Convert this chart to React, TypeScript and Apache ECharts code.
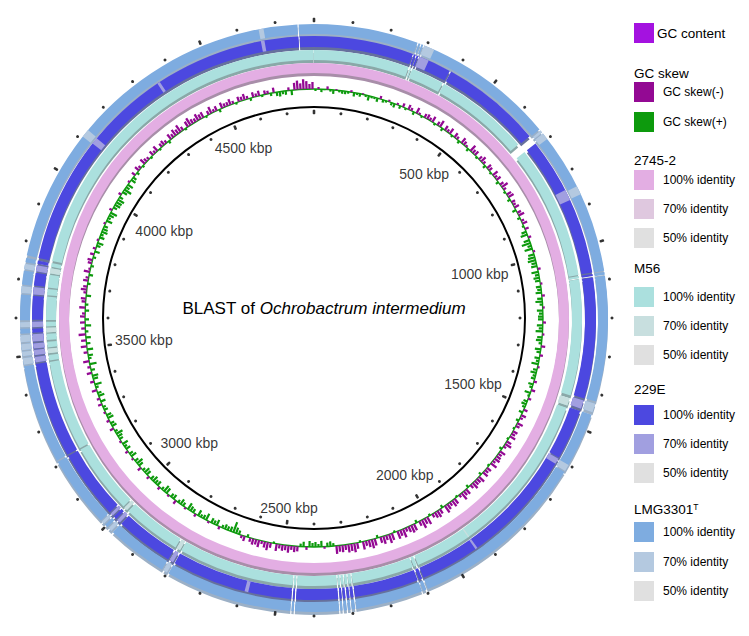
import React, { useEffect, useRef } from 'react';
import * as echarts from 'echarts';

// ---------------- data ----------------
const GENOME_KBP = 4800;
const TICK_STEP_KBP = 100;
const MAJOR_TICK_KBP = 500;
const kbpLabels = [500, 1000, 1500, 2000, 2500, 3000, 3500, 4000, 4500];

// GC skew, one value per 10 kbp window (negative = GC skew(-), positive = GC skew(+))
const SKEW_WINDOW_KBP = 10;
const gcSkew = [
  2, -2, 3, 1, -3, 2, 4, -1, 2, 3,
  3, 2, -2, 4, 2, 3, -1, 2, 5, 2,
  2, 4, -3, 3, 2, -2, 3, 4, -2, 3,
  -4, 2, -5, -3, 3, -6, -2, 2, -4, -5,
  -3, -6, 2, -4, -7, 3, -5, -3, -6, 2,
  -5, -3, 3, -6, -4, -2, 3, -7, -4, -5,
  2, -4, -6, -3, 3, -5, -4, 2, -6, -3,
  -5, 3, -4, -7, -3, 2, -5, -6, 3, -4,
  -3, -5, 4, -4, -6, 3, -3, -5, 2, -4,
  5, 7, -3, 6, 9, 4, 8, -2, 6, 7,
  8, 5, 6, -3, 7, 4, 6, 5, -2, 5,
  4, 6, -3, 5, 7, 3, -2, 6, 4, 5,
  5, -3, 6, 4, 7, -2, 5, 6, 3, -4,
  6, 4, -3, 5, 3, 7, -2, 4, 6, 3,
  4, -3, 5, 3, -4, 6, 2, -3, 4, 5,
  3, -4, 4, -5, -3, 3, -6, -4, 2, -5,
  -4, -6, 2, -5, -7, -3, 3, -6, -4, -5,
  -6, -3, -7, 2, -5, -4, -6, 3, -7, -5,
  -5, -7, -4, 3, -6, -5, -8, -3, 2, -6,
  -7, -4, -6, -8, 3, -5, -7, -6, -4, 2,
  -8, -6, -9, -5, 3, -7, -8, -6, -4, -9,
  -6, -8, 2, -7, -9, -5, -8, -6, 3, -7,
  -9, -7, -5, -8, 2, -6, -9, -7, -8, -5,
  -7, -6, -8, 3, 5, 4, -2, 6, 3, 5,
  4, 6, -3, 5, 3, -5, -6, -4, -7, -5,
  -6, -4, -7, 2, -5, -8, -6, -3, -7, -5,
  -6, -4, 3, -5, -3, 4, 6, 11, 5, 4,
  5, 3, -3, 6, 4, 5, -2, 7, 4, 3,
  6, -3, 4, 5, 7, -2, 4, 6, 3, -4,
  5, 4, -2, 6, 7, 3, -3, 5, 4, 6,
  4, -3, 5, 6, 3, -4, 5, 7, 4, -2,
  6, 4, -3, 5, 3, 6, -2, 4, 5, 7,
  3, -4, 5, 4, -3, 6, 5, -2, 4, 3,
  -4, 5, -3, 6, 4, -5, 3, 7, -4, 5,
  6, -5, 4, -3, 7, -6, 3, 5, -4, 6,
  -6, 4, -5, 5, -7, 3, -4, 6, -5, 4,
  -5, -3, 4, -6, 3, -4, -5, 5, -3, -6,
  -4, 3, -5, -3, 4, -6, -2, 3, -4, -5,
  3, -4, 5, -3, 4, 6, -2, 5, 3, 6,
  5, 4, -2, 6, 3, 5, 7, -3, 4, 6,
  6, 7, 4, -3, 5, 8, 4, 6, -2, 5,
  4, -4, 3, -5, -3, 2, -6, -4, -3, 2,
  -5, -3, -6, 2, -4, -5, -3, 3, -6, -4,
  -7, -5, -8, -4, 2, -6, -8, -5, -4, -7,
  -5, -6, 2, -4, -7, -3, -5, 3, -6, -4,
  -4, -6, -3, 2, -5, -4, -6, -3, 3, -5,
  -3, -5, 2, -4, -3, 3, -5, 4, 5, 3,
  4, -3, 5, -7, -9, -6, -10, -8, -5, -7,
];

// BLAST rings: [start, end] kbp without hits (gaps) and with ~70% identity (weak)
const gaps2745: number[][] = [];
const weak2745: number[][] = [];

const gapsM56 = [
  [276, 280], [284, 287], [383, 387], [662, 690], [1077, 1080], [1086, 1089],
  [1424, 1433], [1454, 1461], [2095, 2099], [2108, 2111], [2289, 2292], [2301, 2304],
  [2312, 2315], [2322, 2325], [2331, 2334], [2449, 2452], [2458, 2461], [2796, 2800],
  [2811, 2815], [2985, 2990], [3000, 3004], [3208, 3212], [3474, 3478], [3494, 3499],
  [3512, 3516], [3532, 3537], [3555, 3559], [3572, 3576], [3589, 3594], [3661, 3665],
  [3683, 3687], [3724, 3728], [3743, 3747], [3758, 3764], [4799, 4800],
];
const weakM56 = [
  [1433, 1454], [1928, 1932], [2800, 2811], [2990, 3000], [3499, 3512],
  [3559, 3572], [3728, 3743],
];

const gaps229E = [
  [274, 277], [282, 285], [290, 293], [384, 388], [665, 690], [1076, 1080],
  [1086, 1090], [1421, 1427], [1450, 1457], [1596, 1599], [2095, 2099], [2108, 2112],
  [2288, 2292], [2300, 2303], [2310, 2314], [2321, 2324], [2330, 2334], [2449, 2453],
  [2458, 2462], [2795, 2800], [2810, 2815], [2975, 2980], [2990, 2994], [3003, 3007],
  [3015, 3019], [3209, 3213], [3475, 3479], [3494, 3499], [3513, 3517], [3531, 3536],
  [3556, 3560], [3571, 3575], [3590, 3595], [3660, 3664], [3684, 3688], [3723, 3727],
  [3744, 3748], [3757, 3764], [4758, 4761],
];
const weak229E = [
  [293, 320], [840, 870], [1427, 1450], [1599, 1615], [1928, 1934], [2580, 2590],
  [2800, 2810], [2980, 2990], [3007, 3015], [3479, 3494], [3499, 3513], [3517, 3531],
  [3536, 3556], [3575, 3590], [3664, 3684], [3727, 3744], [4110, 4128], [4350, 4358],
  [4655, 4665],
];

const gapsLMG = [
  [275, 278], [283, 286], [291, 294], [668, 672], [678, 682], [1077, 1080],
  [1087, 1090], [1420, 1426], [1449, 1456], [1618, 1621], [2096, 2100], [2109, 2112],
  [2289, 2292], [2301, 2304], [2311, 2314], [2322, 2325], [2331, 2334], [2450, 2453],
  [2459, 2462], [2796, 2800], [2811, 2815], [2976, 2981], [2991, 2995], [3004, 3008],
  [3016, 3019], [3209, 3213], [3474, 3478], [3495, 3500], [3512, 3516], [3532, 3537],
  [3555, 3559], [3572, 3576], [3589, 3594], [3661, 3665], [3683, 3687], [3724, 3728],
  [3742, 3746], [3758, 3764], [4757, 4760],
];
const weakLMG = [
  [294, 322], [672, 678], [682, 700], [845, 868], [1426, 1449], [1600, 1618],
  [2800, 2811], [2981, 2991], [3008, 3016], [3478, 3495], [3500, 3512], [3516, 3532],
  [3537, 3555], [3576, 3589], [3665, 3683], [3728, 3742], [4108, 4130], [4655, 4668],
];

// ---------------- style / layout ----------------
const FONT = '"Liberation Sans", Arial, Helvetica, sans-serif';
const CENTER = [314, 318];
const RADIUS_MAX = 300; // radius axis in px units
const CIRCLE_R = 211;
const SKEW_BASE = 229;
const SKEW_SCALE = 1.0;
const SKEW_BAR_FRACTION = 0.75;
const OUTER_TICK_R = 298;
const INNER_TICK_R = 206;
const SHADOW_DY = 3;

const GC_CONTENT_COLOR = '#a412e0';
const SKEW_NEG_COLOR = '#930993';
const SKEW_POS_COLOR = '#0d9a0d';

const rings = [
  { name: '2745-2', r0: 245, r1: 255, colors: ['#e3aee3', '#dfc8df', '#e0e0e0'], shadow: '#a88ea9', gaps: gaps2745, weak: weak2745 },
  { name: 'M56', r0: 258, r1: 268, colors: ['#abe0de', '#c8dfdf', '#e0e0e0'], shadow: '#8aa8a8', gaps: gapsM56, weak: weakM56 },
  { name: '229E', r0: 271, r1: 282, colors: ['#4c48e0', '#a19fe0', '#e0e0e0'], shadow: '#66709c', gaps: gaps229E, weak: weak229E },
  { name: 'LMG3301', r0: 284, r1: 294, colors: ['#7eace0', '#b4c9e0', '#e0e0e0'], shadow: '#9cb0c6', gaps: gapsLMG, weak: weakLMG },
];

const legendRowY = [33, 73, 92, 122, 160, 180, 209, 238, 268, 297, 326, 355, 389, 415, 444, 473, 509, 532, 562, 591];

function complement(gaps: number[][], total: number) {
  const sorted = gaps.slice().sort((a, b) => a[0] - b[0]);
  const out: number[][] = [];
  let cur = 0;
  for (const [a, b] of sorted) {
    if (a > cur) out.push([cur, a]);
    cur = Math.max(cur, b);
  }
  if (cur < total) out.push([cur, total]);
  return out;
}

function sectorFrom(params: any, api: any, rIn: number, rOut: number, s: number, e: number, dy: number, fill: string) {
  const cs = params.coordSys;
  const pa = api.coord([rOut, s]);
  const pb = api.coord([rOut, e]);
  const pi = api.coord([rIn, s]);
  const ro = Math.hypot(pa[0] - cs.cx, pa[1] - cs.cy);
  const ri = Math.hypot(pi[0] - cs.cx, pi[1] - cs.cy);
  const a0 = Math.atan2(pa[1] - cs.cy, pa[0] - cs.cx);
  let a1 = Math.atan2(pb[1] - cs.cy, pb[0] - cs.cx);
  if (a1 <= a0 + 1e-7) a1 += Math.PI * 2;
  return {
    type: 'sector',
    silent: true,
    shape: { cx: cs.cx, cy: cs.cy + dy, r0: ri, r: ro, startAngle: a0, endAngle: a1, clockwise: true },
    style: { fill },
  };
}

function ringRender(r0: number, r1: number, colors: string[], dy: number) {
  return (params: any, api: any) =>
    sectorFrom(params, api, r0, r1, api.value(0), api.value(1), dy, colors[api.value(2)]);
}

function skewRender(params: any, api: any) {
  const s = api.value(0);
  const v = api.value(1) * SKEW_SCALE;
  const rIn = v < 0 ? SKEW_BASE : SKEW_BASE - v;
  const rOut = v < 0 ? SKEW_BASE - v : SKEW_BASE;
  const pad = (SKEW_WINDOW_KBP * (1 - SKEW_BAR_FRACTION)) / 2;
  return sectorFrom(params, api, rIn, rOut, s + pad, s + SKEW_WINDOW_KBP - pad, 0, v < 0 ? SKEW_NEG_COLOR : SKEW_POS_COLOR);
}

function buildOption() {
  const series: any[] = [];

  rings.forEach((ring) => {
    const hits = complement(ring.gaps, GENOME_KBP);
    series.push({
      type: 'custom', coordinateSystem: 'polar', polarIndex: 0, z: 1, silent: true,
      renderItem: ringRender(ring.r0, ring.r1, [ring.shadow], SHADOW_DY),
      data: hits.map((h) => [h[0], h[1], 0]),
    });
  });
  rings.forEach((ring) => {
    const hits = complement(ring.gaps, GENOME_KBP);
    series.push({
      type: 'custom', coordinateSystem: 'polar', polarIndex: 0, z: 2, silent: true,
      renderItem: ringRender(ring.r0, ring.r1, ring.colors, 0),
      data: hits.map((h) => [h[0], h[1], 0]).concat(ring.weak.map((w) => [w[0], w[1], 1])),
    });
  });

  // backbone circle
  series.push({
    type: 'custom', coordinateSystem: 'polar', polarIndex: 0, z: 2, silent: true,
    renderItem: ringRender(CIRCLE_R - 1, CIRCLE_R + 1, ['#000000'], 0),
    data: [[0, GENOME_KBP, 0]],
  });

  // GC skew baseline (thin) + windows
  series.push({
    type: 'custom', coordinateSystem: 'polar', polarIndex: 0, z: 2, silent: true,
    renderItem: ringRender(SKEW_BASE - 0.7, SKEW_BASE + 0.7, [SKEW_POS_COLOR], 0),
    data: [[0, GENOME_KBP, 0]],
  });
  series.push({
    type: 'custom', coordinateSystem: 'polar', polarIndex: 0, z: 3, silent: true,
    renderItem: skewRender,
    data: gcSkew.map((v, i) => [i * SKEW_WINDOW_KBP, v]),
  });

  // ticks
  const ticks: number[] = [];
  for (let k = 0; k < GENOME_KBP; k += TICK_STEP_KBP) ticks.push(k);
  const tickData = (r: number) =>
    ticks.map((k) => {
      const major = k % MAJOR_TICK_KBP === 0;
      return {
        value: [r, k],
        symbol: major ? 'roundRect' : 'circle',
        symbolSize: major ? [2.6, 4.6] : 3,
        symbolRotate: -(k / GENOME_KBP) * 360,
      };
    });
  [OUTER_TICK_R, INNER_TICK_R].forEach((r) => {
    series.push({
      type: 'scatter', coordinateSystem: 'polar', polarIndex: 0, z: 3, silent: true,
      itemStyle: { color: '#000' },
      data: tickData(r),
    });
  });

  // kbp labels
  series.push({
    type: 'scatter', coordinateSystem: 'polar', polarIndex: 0, z: 4, silent: true,
    symbolSize: 0,
    itemStyle: { color: 'transparent' },
    label: {
      show: true, position: 'inside', color: '#000', fontSize: 14, fontFamily: FONT,
      formatter: (p: any) => `${p.value[1]} kbp`,
    },
    data: kbpLabels.map((k) => {
      const th = (k / GENOME_KBP) * Math.PI * 2;
      const w = 7.8 * String(k).length + 26.5;
      const r = CIRCLE_R - 10 - (Math.abs(Math.sin(th)) * w) / 2 - Math.abs(Math.cos(th)) * 6;
      return { value: [r, k] };
    }),
  });

  // legend
  const legendEntries: any[] = [
    { kind: 'item', text: 'GC content', color: GC_CONTENT_COLOR, tx: 657, fs: 13.5 },
    { kind: 'head', text: 'GC skew' },
    { kind: 'item', text: 'GC skew(-)', color: SKEW_NEG_COLOR },
    { kind: 'item', text: 'GC skew(+)', color: SKEW_POS_COLOR },
  ];
  rings.forEach((ring) => {
    legendEntries.push({ kind: 'head', text: ring.name, sup: ring.name === 'LMG3301' ? 'T' : '' });
    ['100% identity', '70% identity', '50% identity'].forEach((t, i) =>
      legendEntries.push({ kind: 'item', text: t, color: ring.colors[i] })
    );
  });

  const graphics: any[] = [];
  legendEntries.forEach((en, i) => {
    const y = legendRowY[i];
    if (en.kind === 'head') {
      graphics.push({
        type: 'text', x: 634, y, silent: true,
        style: en.sup
          ? {
              text: `{a|${en.text}}{s|${en.sup}}`,
              verticalAlign: 'middle',
              rich: {
                a: { fontSize: 13.5, fontFamily: FONT, fill: '#000', color: '#000' },
                s: { fontSize: 8.5, fontFamily: FONT, fill: '#000', color: '#000', verticalAlign: 'top' },
              },
            }
          : { text: en.text, fontSize: 13.5, fontFamily: FONT, fill: '#000', verticalAlign: 'middle' },
      });
    } else {
      graphics.push({
        type: 'rect', silent: true,
        shape: { x: 634, y: y - 10, width: 20, height: 20 },
        style: { fill: en.color },
      });
      graphics.push({
        type: 'text', x: en.tx || 663, y, silent: true,
        style: { text: en.text, fontSize: en.fs || 12, fontFamily: FONT, fill: '#000', verticalAlign: 'middle' },
      });
    }
  });

  graphics.push({
    type: 'text', x: 324, y: 308, silent: true,
    style: {
      text: '{n|BLAST of }{i|Ochrobactrum intermedium}',
      align: 'center', verticalAlign: 'middle',
      rich: {
        n: { fontSize: 17, fontFamily: FONT, fill: '#000', color: '#000' },
        i: { fontSize: 17, fontFamily: FONT, fontStyle: 'italic', fill: '#000', color: '#000' },
      },
    },
  });

  return {
    animation: false,
    backgroundColor: '#ffffff',
    polar: [{ center: CENTER, radius: RADIUS_MAX }],
    angleAxis: [{ polarIndex: 0, type: 'value', min: 0, max: GENOME_KBP, startAngle: 90, clockwise: true, show: false }],
    radiusAxis: [{ polarIndex: 0, type: 'value', min: 0, max: RADIUS_MAX, show: false }],
    tooltip: { show: false },
    series,
    graphic: graphics,
  };
}

export default function App() {
  const ref = useRef<HTMLDivElement>(null);
  useEffect(() => {
    document.body.style.margin = '0';
    if (!ref.current) return;
    const chart = echarts.init(ref.current, undefined, { renderer: 'svg' });
    chart.setOption(buildOption() as any);
    return () => chart.dispose();
  }, []);
  return (
    <div
      ref={ref}
      style={{ position: 'absolute', left: 0, top: 0, width: 749, height: 636, background: '#fff' }}
    />
  );
}
